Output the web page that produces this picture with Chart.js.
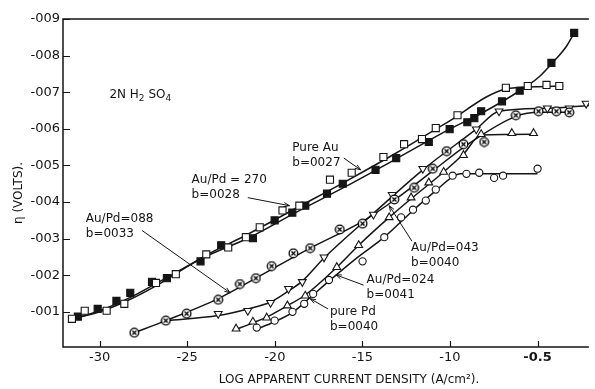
<!DOCTYPE html>
<html>
<head>
<meta charset="utf-8">
<script src="https://cdn.jsdelivr.net/npm/chart.js@4.4.1/dist/chart.umd.min.js"></script>
<style>
  html, body { margin: 0; padding: 0; background: #fff; }
  canvas { display: block; }
</style>
</head>
<body>
<canvas id="tafel" width="595" height="389"></canvas>
<script>
// Tafel plots, overpotential vs log apparent current density (2N H2SO4).
// y values are millivolt magnitudes: 1 means -0.001 V on the printed axis.
const xTickValues = [-30, -25, -20, -15, -10, -5];
const xTickLabels = ['-30', '-25', '-20', '-15', '-10', '-0.5'];
const yTickValues = [1, 2, 3, 4, 5, 6, 7, 8, 9];
const yTickLabels = ['-001', '-002', '-003', '-004', '-005', '-006', '-007', '-008', '-009'];

// pure Au (open squares)
const pureAuX = [-31.58, -30.85, -29.6, -28.59, -26.78, -25.65, -23.91, -22.66, -21.65, -20.86, -19.56, -18.6, -16.85, -15.61, -13.8, -12.62, -11.6, -10.81, -9.57, -6.81, -5.56, -4.49, -3.76];
const pureAuY = [0.81, 1.03, 1.03, 1.22, 1.79, 2.03, 2.57, 2.76, 3.04, 3.31, 3.77, 3.90, 4.61, 4.80, 5.23, 5.58, 5.72, 6.02, 6.37, 7.12, 7.17, 7.20, 7.17];
const pureAuFitX = [-31.69, -30.0, -28.31, -26.61, -23.91, -21.54, -18.71, -15.89, -13.07, -10.25, -6.81, -5.17, -3.53];
const pureAuFitY = [0.79, 1.00, 1.33, 1.76, 2.55, 3.12, 3.85, 4.58, 5.34, 6.15, 7.09, 7.15, 7.17];

// Au/Pd = 2.70 (filled squares)
const au270X = [-31.24, -30.11, -29.04, -28.25, -27.01, -26.16, -24.24, -23.06, -21.25, -20.01, -19.0, -18.26, -17.02, -16.12, -14.25, -13.07, -11.21, -10.02, -9.01, -8.61, -8.22, -7.03, -6.02, -4.21, -2.91];
const au270Y = [0.87, 1.08, 1.30, 1.52, 1.82, 1.92, 2.38, 2.82, 3.01, 3.50, 3.71, 3.90, 4.23, 4.50, 4.88, 5.20, 5.64, 5.99, 6.18, 6.29, 6.48, 6.75, 7.04, 7.80, 8.62];
const au270FitX = [-31.69, -30.0, -28.31, -26.61, -23.91, -21.54, -18.71, -15.89, -13.07, -10.02, -7.99, -6.02, -4.89, -4.04, -3.36, -2.91];
const au270FitY = [0.79, 1.03, 1.38, 1.82, 2.52, 3.01, 3.74, 4.44, 5.18, 5.99, 6.48, 7.04, 7.43, 7.86, 8.25, 8.62];

// Au/Pd = 0.88 (crossed circles)
const au088X = [-28.02, -26.22, -25.03, -23.23, -21.99, -21.08, -20.18, -18.94, -17.98, -16.29, -14.99, -13.18, -12.05, -10.98, -10.19, -9.23, -8.05, -6.24, -4.94, -3.93, -3.19];
const au088Y = [0.43, 0.76, 0.95, 1.33, 1.76, 1.92, 2.25, 2.60, 2.74, 3.25, 3.41, 4.07, 4.39, 4.91, 5.39, 5.58, 5.64, 6.37, 6.48, 6.48, 6.45];
const au088FitX = [-28.02, -26.22, -23.23, -21.08, -17.98, -14.99, -13.07, -10.98, -9.12, -6.24, -4.89, -3.08];
const au088FitY = [0.43, 0.76, 1.36, 1.92, 2.74, 3.47, 4.09, 4.85, 5.53, 6.34, 6.45, 6.45];

// Au/Pd = 0.43 (down triangles)
const au043X = [-23.23, -21.54, -20.24, -19.22, -18.43, -17.19, -14.37, -13.30, -11.55, -8.50, -7.20, -4.44, -3.19, -2.23];
const au043Y = [0.95, 1.03, 1.25, 1.63, 1.82, 2.49, 3.66, 4.20, 4.91, 5.99, 6.48, 6.56, 6.56, 6.69];
const au043FitX = [-26.22, -23.23, -21.54, -20.24, -19.22, -18.43, -17.19, -14.37, -11.55, -8.50, -7.20, -4.44, -2.07];
const au043FitY = [0.76, 0.90, 1.08, 1.27, 1.57, 1.84, 2.47, 3.69, 4.88, 5.99, 6.48, 6.56, 6.64];

// Au/Pd = 0.24 (up triangles)
const au024X = [-22.21, -21.25, -20.46, -19.28, -18.26, -16.46, -15.21, -13.47, -12.22, -11.21, -10.36, -9.23, -8.22, -6.47, -5.23];
const au024Y = [0.54, 0.73, 0.84, 1.17, 1.44, 2.22, 2.82, 3.58, 4.12, 4.53, 4.82, 5.28, 5.85, 5.88, 5.88];
const au024FitX = [-22.27, -21.25, -20.41, -19.28, -18.26, -16.46, -15.21, -13.47, -12.22, -10.36, -9.23, -8.22, -5.06];
const au024FitY = [0.51, 0.70, 0.87, 1.17, 1.46, 2.22, 2.82, 3.58, 4.09, 4.82, 5.31, 5.83, 5.85];

// pure Pd (open circles)
const purePdX = [-21.03, -20.01, -18.99, -18.32, -17.81, -16.91, -14.99, -13.75, -12.79, -12.11, -11.38, -10.81, -9.85, -9.06, -8.33, -7.48, -6.97, -5.0];
const purePdY = [0.57, 0.76, 1.00, 1.22, 1.49, 1.87, 2.38, 3.04, 3.58, 3.79, 4.04, 4.34, 4.72, 4.77, 4.80, 4.66, 4.72, 4.91];
const purePdFitX = [-21.14, -20.01, -18.94, -17.87, -16.91, -15.33, -13.75, -12.11, -10.81, -9.85, -9.40, -5.0];
const purePdFitY = [0.51, 0.73, 1.00, 1.44, 1.84, 2.47, 3.04, 3.77, 4.31, 4.69, 4.77, 4.77];

const FONT = '"DejaVu Sans", sans-serif';
const INK = '#151515';

// text notes with leader lines, anchored in data units
const notes = [
    { lines: ['Pure Au', 'b=0027'], x: -19.0, y: 5.47, from: [-16.06, 5.20], to: [-15.10, 4.88] },
    { lines: ['Au/Pd = 270', 'b=0028'], x: -24.75, y: 4.61, from: [-21.54, 4.12], to: [-19.16, 3.90] },
    { lines: ['Au/Pd=088', 'b=0033'], x: -30.79, y: 3.55, from: [-27.57, 3.22], to: [-22.55, 1.52] },
    { lines: ['Au/Pd=043', 'b=0040'], x: -12.22, y: 2.76, from: [-12.17, 2.93], to: [-13.47, 3.90] },
    { lines: ['Au/Pd=024', 'b=0041'], x: -14.76, y: 1.87, from: [-14.93, 1.73], to: [-16.51, 2.01] },
    { lines: ['pure Pd', 'b=0040'], x: -16.85, y: 1.00, from: [-16.96, 1.08], to: [-17.98, 1.36] }
];

function pts(xs, ys) {
    return xs.map((x, i) => ({ x: x, y: ys[i] }));
}

function crossedCircle() {
    const c = document.createElement('canvas');
    c.width = 11; c.height = 11;
    const g = c.getContext('2d');
    g.fillStyle = '#fff';
    g.strokeStyle = '#000';
    g.lineWidth = 1.3;
    g.beginPath(); g.arc(5.5, 5.5, 4.3, 0, Math.PI * 2); g.fill(); g.stroke();
    g.beginPath();
    g.moveTo(3.5, 3.5); g.lineTo(7.5, 7.5);
    g.moveTo(7.5, 3.5); g.lineTo(3.5, 7.5);
    g.stroke();
    return c;
}

function fitLine(xs, ys) {
    return {
        type: 'line',
        data: pts(xs, ys),
        borderColor: INK,
        borderWidth: 1.5,
        pointRadius: 0,
        cubicInterpolationMode: 'monotone',
        fill: false,
        order: 2
    };
}

function markers(label, xs, ys, style, extra) {
    return Object.assign({
        type: 'scatter',
        label: label,
        data: pts(xs, ys),
        pointStyle: style,
        pointRadius: 4,
        pointBackgroundColor: '#fff',
        pointBorderColor: INK,
        pointBorderWidth: 1.1,
        order: 1
    }, extra || {});
}

const notesPlugin = {
    id: 'notes',
    afterDatasetsDraw(chart) {
        const { ctx, chartArea: a, scales: { x, y } } = chart;
        ctx.save();
        ctx.strokeStyle = INK;
        ctx.fillStyle = INK;
        ctx.lineWidth = 1.5;

        // frame: top, left, bottom
        ctx.beginPath();
        ctx.moveTo(a.right, a.top); ctx.lineTo(a.left, a.top);
        ctx.lineTo(a.left, a.bottom); ctx.lineTo(a.right, a.bottom);
        ctx.stroke();

        // inward ticks
        ctx.lineWidth = 1.2;
        ctx.beginPath();
        yTickValues.forEach(v => {
            const py = Math.round(y.getPixelForValue(v)) + 0.5;
            ctx.moveTo(a.left, py); ctx.lineTo(a.left + 7, py);
        });
        xTickValues.forEach(v => {
            const px = Math.round(x.getPixelForValue(v)) + 0.5;
            ctx.moveTo(px, a.bottom); ctx.lineTo(px, a.bottom - 6);
        });
        ctx.stroke();

        // electrolyte label with subscripts
        ctx.textBaseline = 'middle';
        let tx = x.getPixelForValue(-29.44);
        const ty = y.getPixelForValue(6.94);
        const parts = [['2N H', 0], ['2', 1], [' SO', 0], ['4', 1]];
        parts.forEach(([s, sub]) => {
            ctx.font = (sub ? '9px ' : '12px ') + FONT;
            ctx.fillText(s, tx, sub ? ty + 4 : ty);
            tx += ctx.measureText(s).width;
        });

        // notes and leaders
        ctx.font = '12px ' + FONT;
        ctx.lineWidth = 1;
        notes.forEach(n => {
            const nx = x.getPixelForValue(n.x);
            const ny = y.getPixelForValue(n.y);
            n.lines.forEach((s, i) => ctx.fillText(s, nx, ny + i * 15));
            const x0 = x.getPixelForValue(n.from[0]), y0 = y.getPixelForValue(n.from[1]);
            const x1 = x.getPixelForValue(n.to[0]), y1 = y.getPixelForValue(n.to[1]);
            ctx.beginPath(); ctx.moveTo(x0, y0); ctx.lineTo(x1, y1); ctx.stroke();
            const ang = Math.atan2(y1 - y0, x1 - x0);
            ctx.beginPath();
            ctx.moveTo(x1, y1);
            ctx.lineTo(x1 - 6 * Math.cos(ang - 0.35), y1 - 6 * Math.sin(ang - 0.35));
            ctx.moveTo(x1, y1);
            ctx.lineTo(x1 - 6 * Math.cos(ang + 0.35), y1 - 6 * Math.sin(ang + 0.35));
            ctx.stroke();
        });

        // axis titles
        ctx.font = '12px ' + FONT;
        ctx.textAlign = 'center';
        ctx.fillText('LOG APPARENT CURRENT DENSITY (A/cm\u00B2).', 349, 380);
        ctx.translate(19, 193);
        ctx.rotate(-Math.PI / 2);
        ctx.fillText('\u03B7 (VOLTS).', 0, 0);
        ctx.restore();
    }
};

new Chart(document.getElementById('tafel'), {
    data: {
        datasets: [
            markers('Pure Au', pureAuX, pureAuY, 'rect', { pointRadius: 5 }),
            markers('Au/Pd = 2.70', au270X, au270Y, 'rect', { pointRadius: 5, pointBackgroundColor: INK }),
            markers('Au/Pd = 0.88', au088X, au088Y, crossedCircle()),
            markers('Au/Pd = 0.43', au043X, au043Y, 'triangle', { pointRadius: 4.5, pointRotation: 180 }),
            markers('Au/Pd = 0.24', au024X, au024Y, 'triangle', { pointRadius: 4.5 }),
            markers('pure Pd', purePdX, purePdY, 'circle', { pointRadius: 3.6 }),
            fitLine(pureAuFitX, pureAuFitY),
            fitLine(au270FitX, au270FitY),
            fitLine(au088FitX, au088FitY),
            fitLine(au043FitX, au043FitY),
            fitLine(au024FitX, au024FitY),
            fitLine(purePdFitX, purePdFitY)
        ]
    },
    options: {
        responsive: false,
        animation: false,
        devicePixelRatio: 1,
        layout: { padding: { top: 19, right: 0, left: 0, bottom: 0 } },
        plugins: { legend: { display: false }, tooltip: { enabled: false } },
        scales: {
            x: {
                type: 'linear',
                min: -32.09,
                max: -2.07,
                afterFit: (s) => { s.height = 42; },
                afterBuildTicks: (s) => { s.ticks = xTickValues.map(v => ({ value: v })); },
                grid: { display: false, drawTicks: false },
                border: { display: false },
                ticks: {
                    padding: 3,
                    color: INK,
                    maxRotation: 0,
                    font: (c) => ({ family: FONT, size: 13, weight: c.tick && c.tick.value === -5 ? 'bold' : 'normal' }),
                    callback: (v, i) => xTickLabels[i]
                }
            },
            y: {
                type: 'linear',
                min: 0.04,
                max: 9,
                afterFit: (s) => { s.width = 63; },
                afterBuildTicks: (s) => { s.ticks = yTickValues.map(v => ({ value: v })); },
                grid: { display: false, drawTicks: false },
                border: { display: false },
                ticks: {
                    padding: 3,
                    color: INK,
                    font: { family: FONT, size: 13 },
                    callback: (v, i) => yTickLabels[i]
                }
            }
        }
    },
    plugins: [notesPlugin]
});
</script>
</body>
</html>
